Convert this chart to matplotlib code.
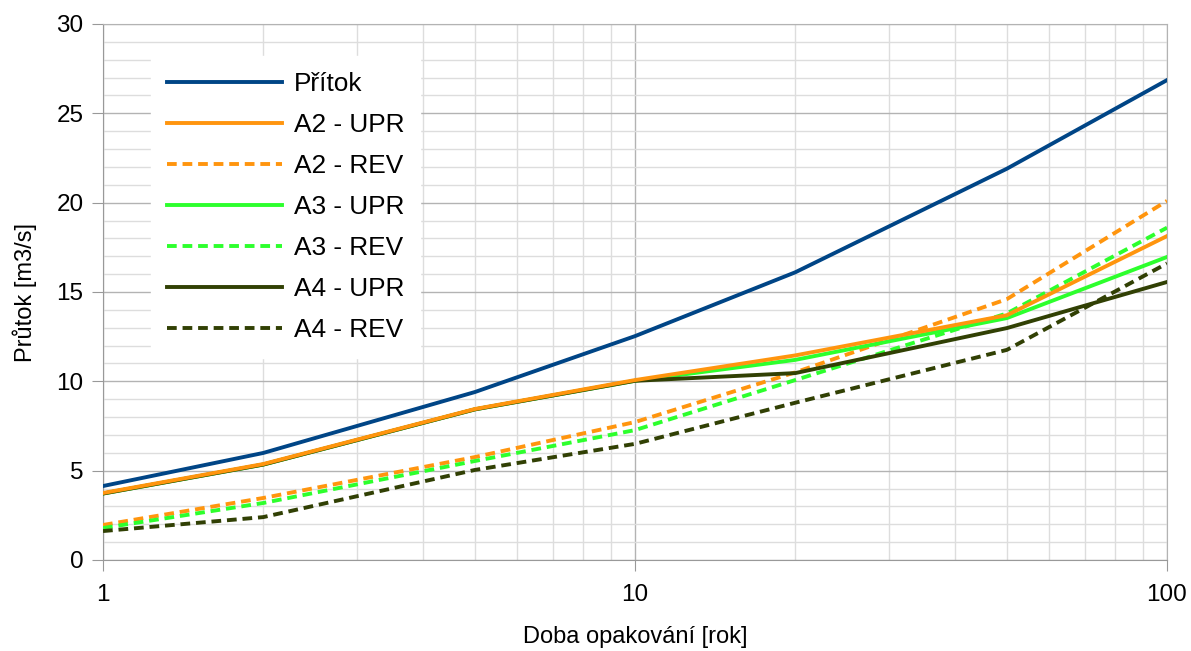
import matplotlib.pyplot as plt
from matplotlib.ticker import FixedLocator, NullFormatter

plt.rcParams['font.family'] = ['Liberation Sans', 'DejaVu Sans']

# doba opakovani [rok]
roky = [1, 2, 5, 10, 20, 50, 100]

pritok = [4.14, 5.99, 9.40, 12.53, 16.10, 21.90, 26.86]
a2_upr = [3.75, 5.37, 8.45, 10.07, 11.45, 13.70, 18.13]
a2_rev = [1.96, 3.47, 5.76, 7.72, 10.50, 14.60, 20.10]
a3_upr = [3.72, 5.34, 8.43, 10.03, 11.20, 13.54, 16.96]
a3_rev = [1.79, 3.19, 5.54, 7.27, 10.07, 13.80, 18.60]
a4_upr = [3.72, 5.34, 8.43, 10.03, 10.46, 12.98, 15.56]
a4_rev = [1.62, 2.40, 5.04, 6.50, 8.80, 11.76, 16.60]

series = [
    ("Přítok", pritok, "#004586", "-"),
    ("A2 - UPR", a2_upr, "#ff950e", "-"),
    ("A2 - REV", a2_rev, "#ff950e", "--"),
    ("A3 - UPR", a3_upr, "#2dff2d", "-"),
    ("A3 - REV", a3_rev, "#2dff2d", "--"),
    ("A4 - UPR", a4_upr, "#314004", "-"),
    ("A4 - REV", a4_rev, "#314004", "--"),
]
zorders = [3, 9, 4, 6, 5, 7, 8]

fig = plt.figure(figsize=(11.91, 6.51), dpi=100)
ax = fig.add_axes([103/1191, 91/651, 1064/1191, 536/651])

for (name, vals, col, ls), z in zip(series, zorders):
    line, = ax.plot(roky, vals, color=col, lw=2.8, linestyle=ls, label=name, zorder=z)
    if ls == "--":
        line.set_dashes((2.5, 1.5))

ax.set_xscale("log")
ax.set_xlim(1, 100)
ax.set_ylim(0, 30)
ax.set_yticks(range(0, 31, 5))
ax.yaxis.set_minor_locator(FixedLocator([v for v in range(0, 31) if v % 5]))
ax.set_xticks([1, 10, 100])
ax.set_xticklabels(["1", "10", "100"])
ax.xaxis.set_minor_formatter(NullFormatter())

ax.grid(which="major", color="#b3b3b3", lw=1.0, zorder=0)
ax.grid(which="minor", color="#dddddd", lw=1.0, zorder=0)
ax.set_axisbelow(True)

ax.tick_params(which="major", direction="out", length=8, color="#999999", labelsize=17.5)
ax.tick_params(axis="y", pad=6)
ax.tick_params(axis="x", pad=9)
ax.tick_params(which="minor", length=0)
for s in ["left", "bottom"]:
    ax.spines[s].set_color("#999999")
for s in ["top", "right"]:
    ax.spines[s].set_color("#b3b3b3")

ax.set_xlabel("Doba opakování [rok]", fontsize=17, labelpad=15)
ax.set_ylabel("Průtok [m3/s]", fontsize=17, labelpad=14)

leg = ax.legend(loc="upper left", bbox_to_anchor=(0.045, 0.94), borderaxespad=0,
                fontsize=18.9, frameon=True, fancybox=False, handlelength=4.4,
                handletextpad=0.45, labelspacing=0.65, borderpad=0.6)
leg.get_frame().set_edgecolor("white")
leg.get_frame().set_facecolor("white")
leg.get_frame().set_alpha(1)
leg.set_zorder(20)

fig.savefig("out.png", dpi=100)
